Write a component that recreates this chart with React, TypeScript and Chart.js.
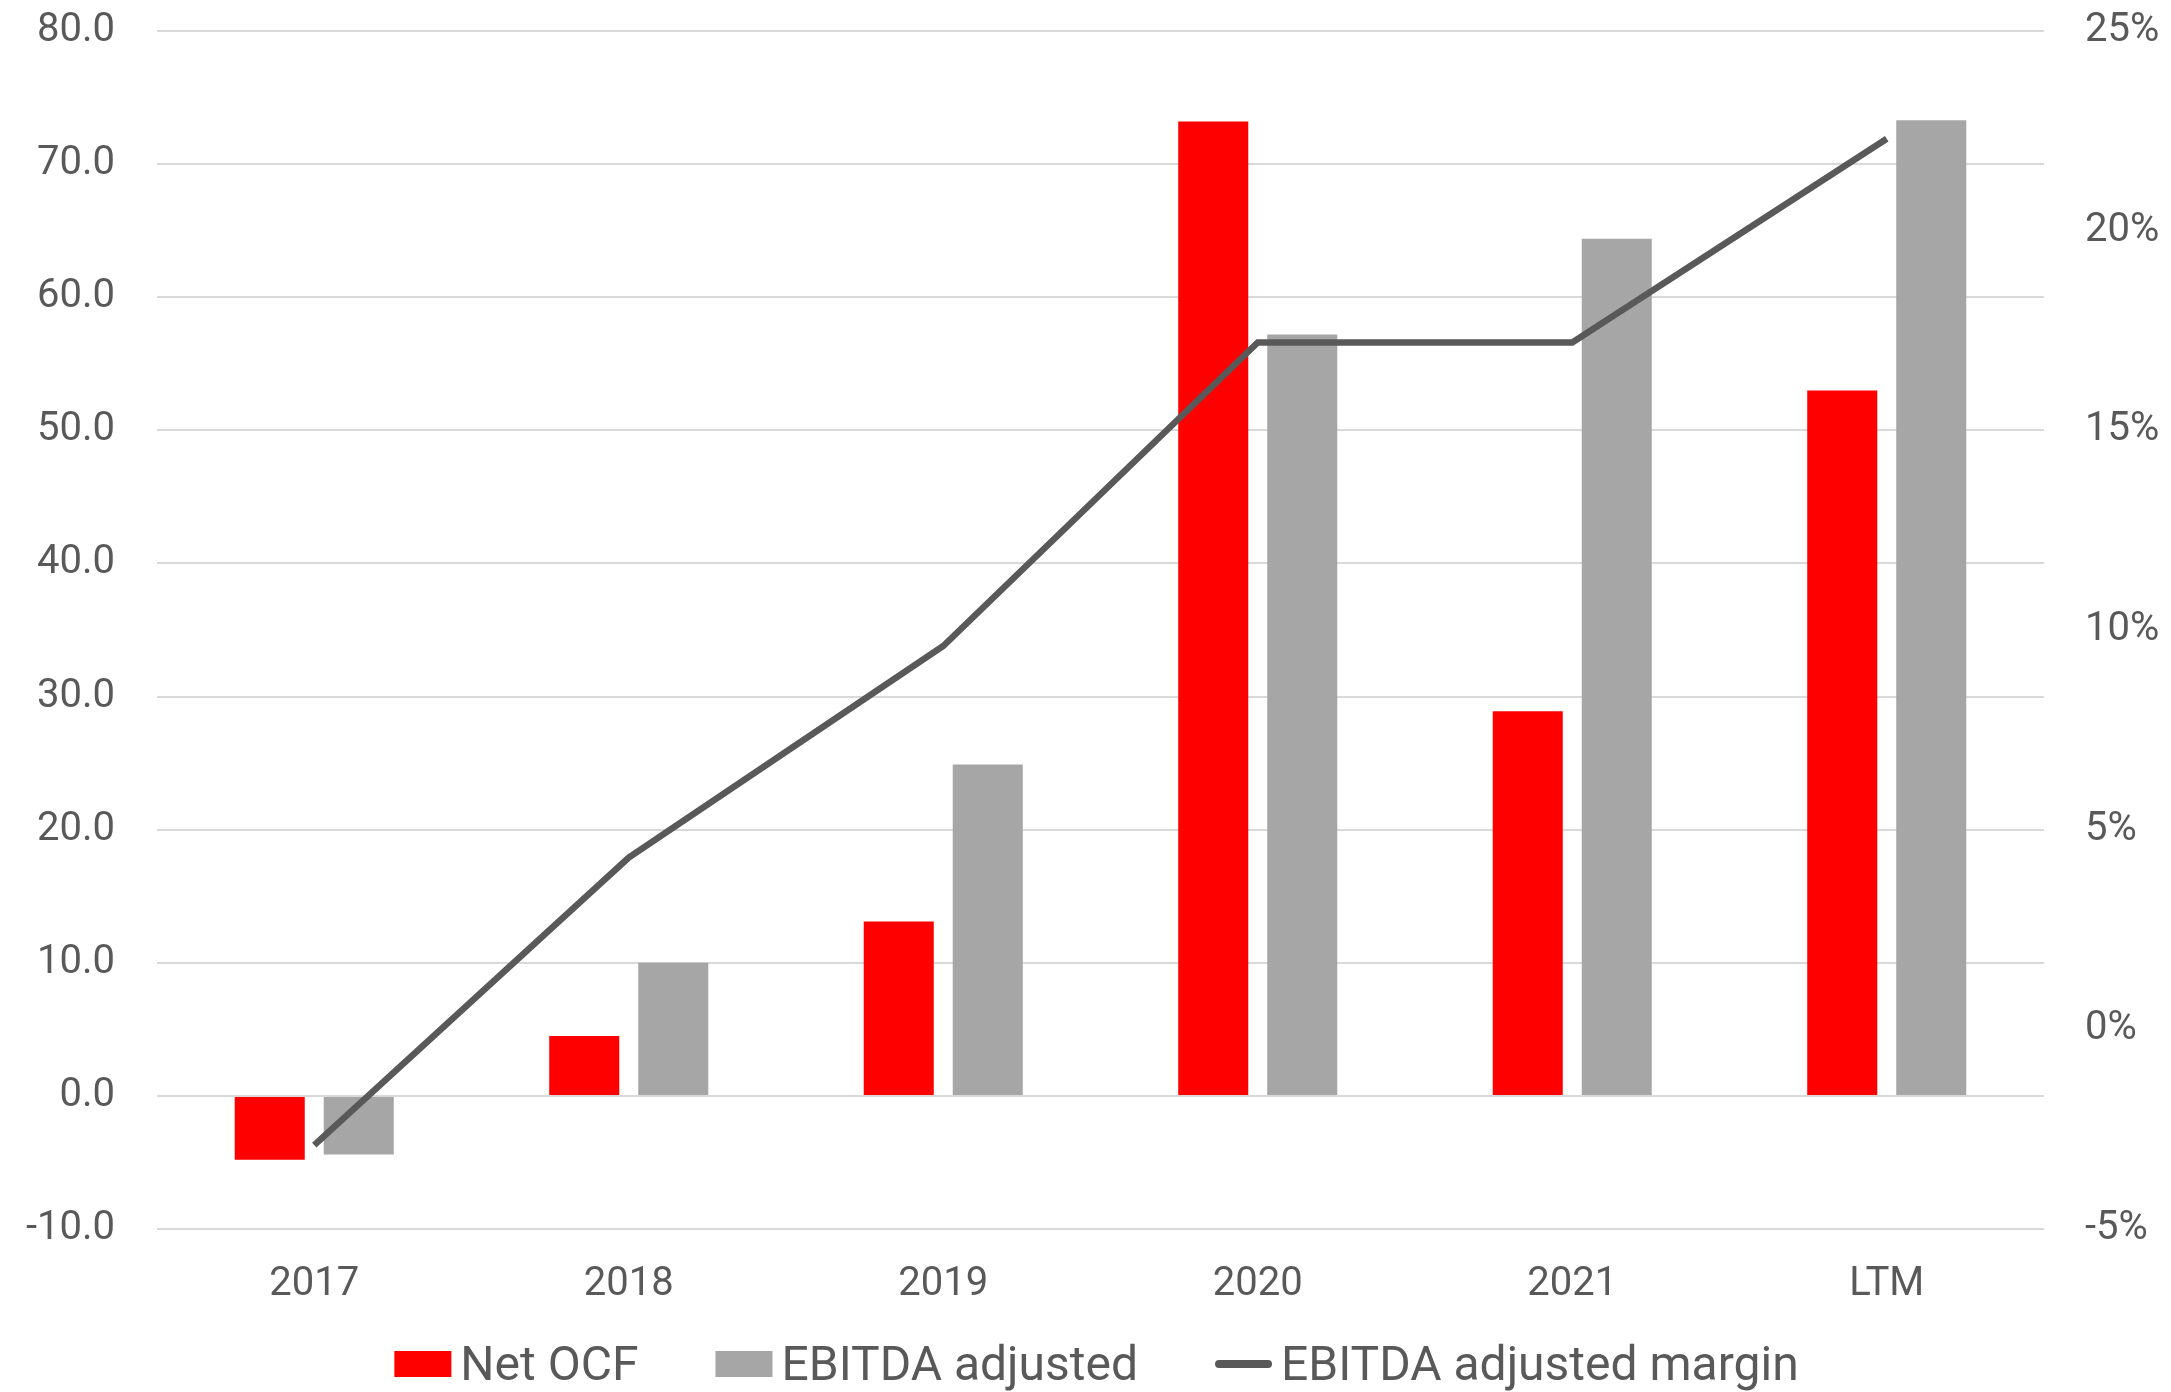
import React, { useEffect, useRef } from "react";
import { Chart, registerables } from "chart.js";

Chart.register(...registerables);

const categories = ["2017", "2018", "2019", "2020", "2021", "LTM"];
const netOCF = [-4.8, 4.5, 13.1, 73.2, 28.9, 53.0];
const ebitdaAdjusted = [-4.4, 10.0, 24.9, 57.2, 64.4, 73.3];
const ebitdaMargin = [-2.9, 4.3, 9.6, 17.2, 17.2, 22.3];

const seriesLabels = ["Net OCF", "EBITDA adjusted", "EBITDA adjusted margin"];

const TEXT = "#595959";
const RED = "#FF0000";
const GRAY = "#A6A6A6";
const LINE = "#595959";
const GRID = "#D9D9D9";
const W = 2171;
const H = 1392;

const legendPlugin = {
  id: "customLegend",
  afterDraw(chart: any) {
    const ctx = chart.ctx;
    ctx.save();
    ctx.font = "48px Roboto";
    const order = [1, 2, 0];
    const items = order.map((i) => {
      const ds = chart.data.datasets[i];
      const isLine = ds.type === "line";
      return { label: ds.label, color: isLine ? ds.borderColor : ds.backgroundColor, isLine };
    });
    const boxW = 57;
    const gap = 9;
    const spacing = 77;
    const widths = items.map((it) => boxW + gap + ctx.measureText(it.label).width);
    const total = widths.reduce((a, b) => a + b, 0) + spacing * (items.length - 1);
    const ca = chart.chartArea;
    let x = (ca.left + ca.right) / 2 - total / 2 - 4;
    const baseY = chart.height - 12;
    const midY = baseY - 16;
    items.forEach((it, i) => {
      if (it.isLine) {
        ctx.strokeStyle = it.color;
        ctx.lineWidth = 8;
        ctx.lineCap = "round";
        ctx.beginPath();
        ctx.moveTo(x + 4, midY);
        ctx.lineTo(x + boxW - 4, midY);
        ctx.stroke();
      } else {
        ctx.fillStyle = it.color;
        ctx.fillRect(x, midY - 13, boxW, 26);
      }
      ctx.fillStyle = TEXT;
      ctx.textAlign = "left";
      ctx.textBaseline = "alphabetic";
      ctx.fillText(it.label, x + boxW + gap, baseY);
      x += widths[i] + spacing;
    });
    ctx.restore();
  },
};

export default function App() {
  const ref = useRef<HTMLCanvasElement | null>(null);

  useEffect(() => {
    document.body.style.margin = "0";
    const canvas = ref.current;
    if (!canvas) return;
    Chart.defaults.font.family = "Roboto";
    const chart = new Chart(canvas, {
      type: "bar",
      data: {
        labels: categories,
        datasets: [
          {
            type: "line",
            label: seriesLabels[2],
            data: ebitdaMargin,
            yAxisID: "y1",
            borderColor: LINE,
            backgroundColor: LINE,
            borderWidth: 6.5,
            pointRadius: 0,
            tension: 0,
            order: 0,
          } as any,
          {
            type: "bar",
            label: seriesLabels[0],
            data: netOCF,
            yAxisID: "y",
            backgroundColor: RED,
            categoryPercentage: 0.566,
            barPercentage: 0.787,
            order: 1,
          },
          {
            type: "bar",
            label: seriesLabels[1],
            data: ebitdaAdjusted,
            yAxisID: "y",
            backgroundColor: GRAY,
            categoryPercentage: 0.566,
            barPercentage: 0.787,
            order: 2,
          },
        ],
      },
      options: {
        responsive: false,
        animation: false,
        layout: { padding: { top: 0, bottom: 70, left: 0, right: 0 } },
        plugins: {
          legend: { display: false },
          tooltip: { enabled: false },
        },
        scales: {
          x: {
            grid: { display: false },
            border: { display: false },
            ticks: { color: TEXT, font: { size: 40 }, padding: 24 },
            afterFit: (s: any) => {
              s.height = 93;
            },
          },
          y: {
            position: "left",
            min: -10,
            max: 80,
            grid: { color: GRID, lineWidth: 2, drawTicks: false },
            border: { display: false },
            ticks: {
              stepSize: 10,
              color: TEXT,
              font: { size: 40 },
              padding: 42,
              callback: (v: any) => Number(v).toFixed(1),
            },
            afterFit: (s: any) => {
              s.width = 157;
              s.paddingTop = 31;
              s.paddingBottom = 0;
            },
          },
          y1: {
            position: "right",
            min: -5,
            max: 25,
            grid: { display: false, drawTicks: false },
            border: { display: false },
            ticks: {
              stepSize: 5,
              color: TEXT,
              font: { size: 40 },
              padding: 41,
              callback: (v: any) => `${v}%`,
            },
            afterFit: (s: any) => {
              s.width = 127;
              s.paddingTop = 31;
              s.paddingBottom = 0;
            },
          },
        },
      },
      plugins: [legendPlugin],
    });
    return () => chart.destroy();
  }, []);

  return (
    <div style={{ position: "absolute", left: 0, top: 0, width: W, height: H, background: "#fff" }}>
      <canvas ref={ref} width={W} height={H} style={{ display: "block" }} />
    </div>
  );
}
